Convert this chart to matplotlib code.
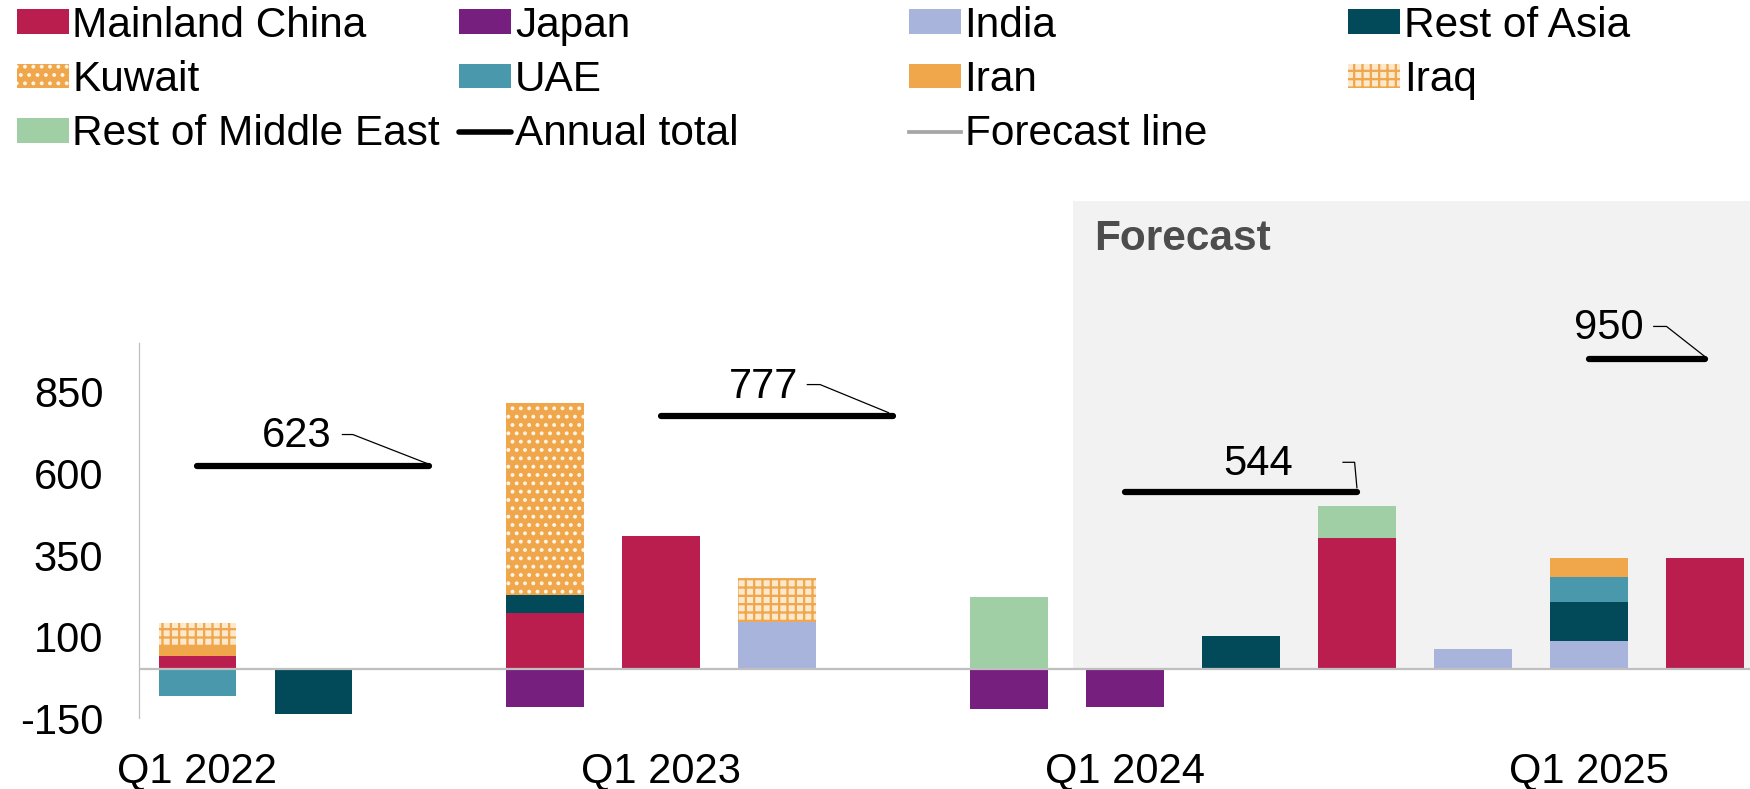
import numpy as np
import matplotlib.pyplot as plt
from matplotlib.patches import Patch
from matplotlib.lines import Line2D

plt.rcParams['font.family'] = ['Liberation Sans', 'DejaVu Sans']
plt.rcParams['hatch.linewidth'] = 1.6

# Quarterly data, Q1 2022 .. Q2 2025
quarters = ['Q1 2022', 'Q2 2022', 'Q3 2022', 'Q4 2022',
            'Q1 2023', 'Q2 2023', 'Q3 2023', 'Q4 2023',
            'Q1 2024', 'Q2 2024', 'Q3 2024', 'Q4 2024',
            'Q1 2025', 'Q2 2025']
china = [40, 0, 0, 173, 407, 0, 0, 0, 0, 0, 401, 0, 0, 341]
japan = [0, 0, 0, -115, 0, 0, 0, -120, -114, 0, 0, 0, 0, 0]
india = [0, 0, 0, 0, 0, 144, -3, 0, 0, 0, 0, 61, 86, 0]
rest_asia = [0, -136, 2, 54, 0, 0, 0, 0, 0, 101, 0, 0, 119, 0]
kuwait = [0, 0, 0, 588, 0, 0, 0, 0, 0, 0, 0, 0, 0, 0]
uae = [-81, 0, 0, 0, 0, 0, 0, 0, 0, 0, 0, 0, 79, 0]
iran = [34, 0, 0, 0, 0, 0, 0, 0, 0, 0, 0, 0, 57, 0]
iraq = [68, 0, 0, 0, 0, 135, 0, 0, 0, 0, 0, 0, 0, 0]
rest_me = [0, 0, 0, 0, 0, 0, 0, 220, 0, 0, 99, 0, 0, 0]

annual_total = [623, 777, 544, 950]
year_start = [0, 4, 8, 12]
year_end = [2, 6, 10, 13]

tick_pos = [0, 4, 8, 12]
yticks = [-150, 100, 350, 600, 850]

# layout of the total labels: text (x, y) and leader polyline
label_xy = [(0.86, 714), (4.88, 866), (9.15, 630), (12.17, 1046)]
leader_x = [(1.25, 1.34, 1.99), (5.26, 5.37, 5.96), (9.88, 9.98, 10.0), (12.56, 12.67, 13.0)]
leader_y = [(719, 719, 629), (872, 872, 786), (634, 634, 556), (1050, 1050, 958)]

series = [
    ('Mainland China', china, dict(color='#b91e4f')),
    ('Japan', japan, dict(color='#771f7e')),
    ('India', india, dict(color='#a9b4dd')),
    ('Rest of Asia', rest_asia, dict(color='#024a5a')),
    ('Kuwait', kuwait, dict(facecolor='#f0a64b', edgecolor='#fff4e6', hatch='..')),
    ('UAE', uae, dict(color='#4a98ab')),
    ('Iran', iran, dict(color='#f0a64b')),
    ('Iraq', iraq, dict(facecolor='#fce8cc', edgecolor='#f0a64b', hatch='++')),
    ('Rest of Middle East', rest_me, dict(color='#a0cfa6')),
]

FS = 30

fig = plt.figure(figsize=(17.5, 7.89), dpi=100)
ax = fig.add_axes([0.0797, 0.0896, 0.9203, 0.656])

x = np.arange(len(quarters))
ylo, yhi = -150, 1435
xlo, xhi = -0.5, 13.39

# forecast shading (above zero only)
ax.axvspan(7.547, xhi, ymin=(0 - ylo) / (yhi - ylo), ymax=1, color='#f2f2f2', zorder=0, lw=0)
ax.text(7.73, 1319, 'Forecast', fontsize=30.5, fontweight='bold', color='#4d4d4d',
        ha='left', va='center')

pos_bottom = np.zeros(len(x))
neg_bottom = np.zeros(len(x))
handles = {}
for name, vals, style in series:
    v = np.array(vals, dtype=float)
    bottom = np.where(v >= 0, pos_bottom, neg_bottom)
    ax.bar(x, v, bottom=bottom, width=0.67, linewidth=0, zorder=2, **style)
    pos_bottom += np.where(v > 0, v, 0)
    neg_bottom += np.where(v < 0, v, 0)
    handles[name] = Patch(linewidth=0, **style)

ax.axhline(0, color='#bfbfbf', lw=1.6, zorder=3)

# annual totals
for i, total in enumerate(annual_total):
    ax.plot([year_start[i], year_end[i]], [total, total], color='black', lw=4.5,
            solid_capstyle='round', zorder=4, clip_on=False)
    ax.plot(leader_x[i], leader_y[i], color='black', lw=0.9, zorder=4, clip_on=False)
    ax.text(label_xy[i][0], label_xy[i][1], str(total), fontsize=FS, ha='center',
            va='center', zorder=5)

ax.set_xlim(xlo, xhi)
ax.set_ylim(ylo, yhi)
ax.set_xticks(tick_pos)
ax.set_xticklabels([quarters[i] for i in tick_pos])
ax.set_yticks(yticks)
ax.set_yticklabels([str(t) for t in yticks])
ax.tick_params(axis='y', length=0, pad=26, labelsize=FS)
ax.tick_params(axis='x', length=0, pad=24, labelsize=FS)
for s in ['top', 'right', 'bottom']:
    ax.spines[s].set_visible(False)
ax.spines['left'].set_color('#bfbfbf')
ax.spines['left'].set_linewidth(0.9)
ax.spines['left'].set_bounds(-150, 1000)
ax.set_facecolor('none')

handles['Annual total'] = Line2D([], [], color='black', lw=4, solid_capstyle='round')
handles['Forecast line'] = Line2D([], [], color='#a6a6a6', lw=2.7)

columns = [['Mainland China', 'Kuwait', 'Rest of Middle East'],
           ['Japan', 'UAE', 'Annual total'],
           ['India', 'Iran', 'Forecast line'],
           ['Rest of Asia', 'Iraq']]
col_x = [0.0095, 0.2625, 0.5195, 0.7705]
for cx, names in zip(col_x, columns):
    fig.legend([handles[n] for n in names], names, loc='upper left',
               bbox_to_anchor=(cx, 0.993), frameon=False, fontsize=30.5,
               borderpad=0, borderaxespad=0, handlelength=1.23, handleheight=0.52,
               handletextpad=0.08, labelspacing=0.34)

fig.savefig('out.png', dpi=100)
